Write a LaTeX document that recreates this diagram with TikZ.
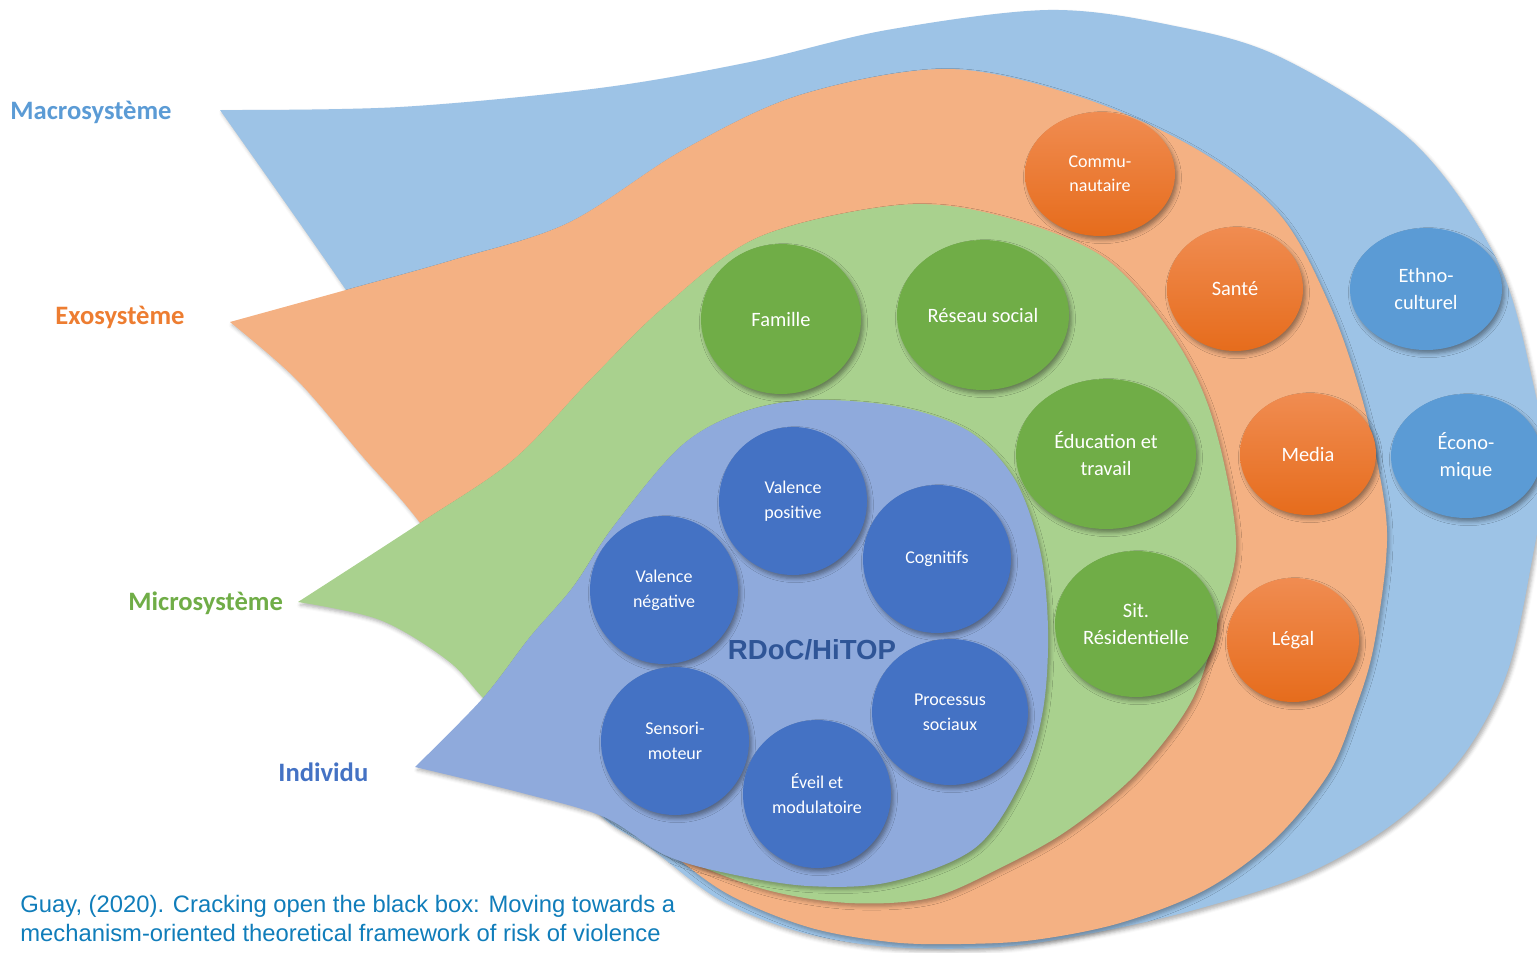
\documentclass[tikz,border=0pt]{standalone}
\usepackage{fontspec}
\setmainfont{Carlito}
\newfontfamily\arialfont{Liberation Sans}
\usetikzlibrary{shapes.geometric,shadows.blur}

\definecolor{macfill}{HTML}{9DC3E6}
\definecolor{exofill}{HTML}{F4B183}
\definecolor{micfill}{HTML}{A9D18E}
\definecolor{indfill}{HTML}{8FAADC}
\definecolor{macdark}{HTML}{5B9BD5}
\definecolor{exodark}{HTML}{ED7D31}
\definecolor{micdark}{HTML}{70AD47}
\definecolor{inddark}{HTML}{4472C4}
\definecolor{exotop}{HTML}{F08C51}
\definecolor{exomid}{HTML}{F47C2C}
\definecolor{exobot}{HTML}{E66C1C}
\definecolor{rdoctext}{HTML}{2F5597}
\definecolor{citetext}{HTML}{107DBA}

\begin{document}
\begin{tikzpicture}[
    x=0.5pt, y=-0.5pt,
    layer/.style={blur shadow={shadow xshift=1.2pt, shadow yshift=-1.5pt, shadow blur radius=1.8pt, shadow opacity=30}},
    syslabel/.style={anchor=west, inner sep=0pt, font=\bfseries\fontsize{13.3}{16}\selectfont},
    bubble/.style={ellipse, inner sep=0pt, align=center, text=white,
        blur shadow={shadow xshift=1.2pt, shadow yshift=-1.8pt, shadow blur radius=2pt, shadow opacity=40}},
    rdocbub/.style={bubble, fill=inddark, minimum width=74pt, minimum height=74pt, font=\fontsize{9}{12.5}\selectfont},
    micbub/.style={bubble, fill=micdark, font=\fontsize{10.2}{13.5}\selectfont},
    exobub/.style={bubble, top color=exotop, middle color=exomid, bottom color=exobot, font=\fontsize{10.2}{13.5}\selectfont},
    macbub/.style={bubble, fill=macdark, font=\fontsize{10.2}{13.8}\selectfont}
]
    \useasboundingbox (0,0) rectangle (1537,953);

    % nested layers
    \fill[macfill, layer] plot[smooth, tension=0.55] coordinates {(220,110) (400,107) (600,88) (750,62) (887,30) (1048,10) (1170,25) (1280,57) (1413,142) (1497,260) (1533,383) (1545,470) (1532,560) (1507,673) (1462,757) (1394,823) (1308,873) (1205,907) (1103,931) (1000,947) (890,947) (800,932) (720,900) (650,848) (600,815) (555,750) (500,620) (430,420) (346,290) (220,110)} -- cycle;
    \fill[exofill, layer] plot[smooth, tension=0.55] coordinates {(230,322) (346,290) (453,260) (568,223) (683,150) (800,95) (947,69) (1080,97) (1198,150) (1280,215) (1330,306) (1363,402) (1384,500) (1386,560) (1373,650) (1356,707) (1329,773) (1274,840) (1205,890) (1120,923) (1034,940) (960,944) (890,942) (808,927) (726,893) (653,840) (605,812) (560,750) (500,640) (420,523) (363,457) (297,380) (230,322)} -- cycle;
    \fill[micfill, layer] plot[smooth, tension=0.55] coordinates {(298,602) (420,523) (513,460) (590,380) (664,307) (759,237) (900,205) (1000,216) (1103,257) (1171,333) (1212,417) (1236,540) (1219,617) (1192,700) (1137,773) (1068,830) (1000,868) (930,898) (849,903) (767,890) (686,860) (625,826) (540,760) (483,698) (447,660) (380,620) (298,602)} -- cycle;
    \fill[indfill, layer] plot[smooth, tension=0.55] coordinates {(415,767) (483,698) (530,637) (573,587) (613,527) (680,447) (740,413) (809,400) (900,407) (970,432) (1015,480) (1040,550) (1048,630) (1043,710) (1022,780) (975,848) (890,882) (808,886) (726,873) (665,855) (604,817) (522,793) (415,767)} -- cycle;

    % layer names
    \node[syslabel, text=macdark] (macro) at (10,112) {Macrosystème};
    \node[syslabel, text=exodark] (exo) at (55,317) {Exosystème};
    \node[syslabel, text=micdark] (micro) at (128,603) {Microsystème};
    \node[syslabel, text=inddark] (indiv) at (278,772) {Individu};

    % macrosysteme
    \node[macbub, minimum width=76pt, minimum height=61pt] (ethno) at (1426,289) {Ethno-\\culturel};
    \node[macbub, minimum width=75pt, minimum height=62pt] (econo) at (1466,456) {Écono-\\mique};

    % exosysteme
    \node[exobub, minimum width=75pt, minimum height=62pt, font=\fontsize{9}{12}\selectfont] (commu) at (1100,174) {Commu-\\nautaire};
    \node[exobub, minimum width=68pt, minimum height=62pt] (sante) at (1235,289) {Santé};
    \node[exobub, minimum width=68pt, minimum height=61pt] (media) at (1308,454) {Media};
    \node[exobub, minimum width=66pt, minimum height=62pt] (legal) at (1293,640) {Légal};

    % microsysteme
    \node[micbub, minimum width=80pt, minimum height=75pt] (famille) at (781,319) {Famille};
    \node[micbub, minimum width=86pt, minimum height=75pt] (reseau) at (983,315) {Réseau social};
    \node[micbub, minimum width=90pt, minimum height=75pt] (educ) at (1106,454) {Éducation et\\travail};
    \node[micbub, minimum width=81pt, minimum height=73pt] (resid) at (1136,624) {Sit.\\Résidentielle};

    % individu
    \node[rdocbub] (valpos) at (793,501) {Valence\\positive};
    \node[rdocbub] (cognit) at (937,559) {Cognitifs};
    \node[rdocbub] (valneg) at (664,590) {Valence\\négative};
    \node[rdocbub, minimum width=78pt, minimum height=73pt] (procsoc) at (950,712) {Processus\\sociaux};
    \node[rdocbub] (sensmot) at (675,741) {Sensori-\\moteur};
    \node[rdocbub] (eveil) at (817,794) {Éveil et\\modulatoire};
    \node[text=rdoctext, font=\arialfont\bfseries\fontsize{13.8}{16}\selectfont, inner sep=0pt] (rdoc) at (812,650) {RDoC/HiTOP};

    % source
    \node[anchor=west, align=left, inner sep=0pt, text=citetext, font=\arialfont\fontsize{11.9}{14.5}\selectfont] (cite) at (20,918) {Guay, (2020). Cracking open the black box: Moving towards a\\mechanism-oriented theoretical framework of risk of violence};
\end{tikzpicture}
\end{document}
